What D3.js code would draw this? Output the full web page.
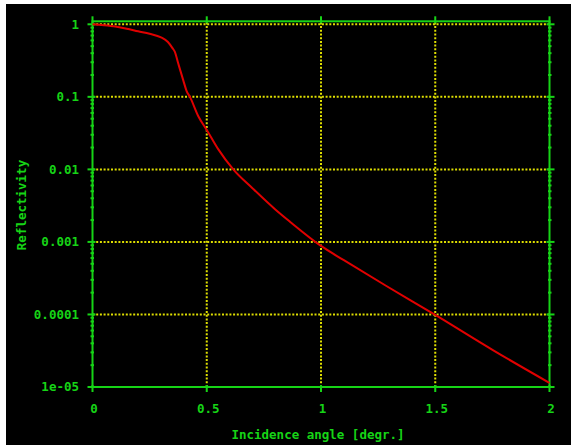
<!DOCTYPE html>
<html><head><meta charset="utf-8">
<script src="https://cdn.jsdelivr.net/npm/d3@7"></script>
<style>html,body{margin:0;padding:0;background:#fff;}svg{display:block;}</style>
</head><body>
<script>
// Data
const angles = [0, 0.05, 0.1, 0.15, 0.2, 0.25, 0.3, 0.33, 0.35, 0.36, 0.375, 0.397, 0.412, 0.427, 0.463, 0.5, 0.55, 0.616, 0.7, 0.8, 0.864, 1.0, 1.1, 1.288, 1.5, 1.754, 2.0];
const reflectivity = [1, 0.97, 0.93, 0.87, 0.8, 0.74, 0.66, 0.57, 0.47, 0.42, 0.29, 0.17, 0.12, 0.099, 0.054, 0.035, 0.019, 0.01, 0.0055, 0.0028, 0.0019, 0.00088, 0.00056, 0.000245, 0.0000985, 0.000032, 0.0000114];
const xTicks = [0, 0.5, 1, 1.5, 2];
const xTickLabels = ["0", "0.5", "1", "1.5", "2"];
const yTicks = [1, 0.1, 0.01, 0.001, 0.0001, 0.00001];
const yTickLabels = ["1", "0.1", "0.01", "0.001", "0.0001", "1e-05"];
const xTitle = "Incidence angle [degr.]";
const yTitle = "Reflectivity";

const W = 571, H = 445;
const green = "#16d416", yellow = "#dede00", red = "#e00000";
const font = "'DejaVu Sans Mono', monospace";

const svg = d3.select("body").append("svg").attr("width", W).attr("height", H);
svg.append("rect").attr("x", 6).attr("y", 4).attr("width", W - 6).attr("height", H - 4).attr("fill", "#000");

const x = d3.scaleLinear().domain([0, 2]).range([92.5, 549.5]);
const y = d3.scaleLog().domain([1e-5, 1.1]).range([387, 21.3]);
const [x0, x1] = x.range();
const [yb, yt] = y.range();

// grid
const grid = svg.append("g").attr("stroke", yellow).attr("stroke-width", 2).attr("stroke-dasharray", "2,1.7");
xTicks.slice(1, -1).forEach(t => grid.append("line").attr("x1", x(t)).attr("x2", x(t)).attr("y1", yb).attr("y2", yt));
yTicks.slice(0, -1).forEach(t => grid.append("line").attr("x1", x0).attr("x2", x1).attr("y1", y(t)).attr("y2", y(t)));

// minor y ticks
const minor = [];
for (let e = -5; e < 0; e++) for (let m = 2; m <= 9; m++) minor.push(m * Math.pow(10, e));
const tk = svg.append("g").attr("stroke", green).attr("stroke-width", 2);
minor.forEach(v => {
  tk.append("line").attr("x1", x0 - 2).attr("x2", x0 + 1.5).attr("y1", y(v)).attr("y2", y(v));
  tk.append("line").attr("x1", x1 - 1.5).attr("x2", x1 + 2).attr("y1", y(v)).attr("y2", y(v));
});
yTicks.forEach(v => {
  tk.append("line").attr("x1", x0 - 5).attr("x2", x0 + 3).attr("y1", y(v)).attr("y2", y(v));
  tk.append("line").attr("x1", x1 - 3).attr("x2", x1 + 5).attr("y1", y(v)).attr("y2", y(v));
});
xTicks.forEach(v => {
  tk.append("line").attr("x1", x(v)).attr("x2", x(v)).attr("y1", yt - 5).attr("y2", yt + 2);
  tk.append("line").attr("x1", x(v)).attr("x2", x(v)).attr("y1", yb - 2).attr("y2", yb + 5);
});

// frame
svg.append("rect").attr("x", x0).attr("y", yt).attr("width", x1 - x0).attr("height", yb - yt)
  .attr("fill", "none").attr("stroke", green).attr("stroke-width", 2);

// curve
const pts = angles.map((a, i) => [a, reflectivity[i]]);
svg.append("path").datum(pts)
  .attr("d", d3.line().x(d => x(d[0])).y(d => y(d[1])).curve(d3.curveMonotoneX))
  .attr("fill", "none").attr("stroke", red).attr("stroke-width", 2);

// labels
const lab = svg.append("g").attr("fill", green).attr("font-family", font).attr("font-weight", "bold").attr("font-size", 12.5);
yTicks.forEach((v, i) => lab.append("text").attr("x", 79).attr("y", y(v)).attr("dy", "0.35em").attr("text-anchor", "end").text(yTickLabels[i]));
xTicks.forEach((v, i) => lab.append("text").attr("x", x(v) + 1.5).attr("y", 409).attr("dy", "0.35em").attr("text-anchor", "middle").text(xTickLabels[i]));
lab.append("text").attr("x", 318).attr("y", 435).attr("dy", "0.35em").attr("text-anchor", "middle").text(xTitle);
lab.append("text").attr("transform", "translate(22,205) rotate(-90)").attr("dy", "0.35em").attr("text-anchor", "middle").text(yTitle);
</script>
</body></html>
